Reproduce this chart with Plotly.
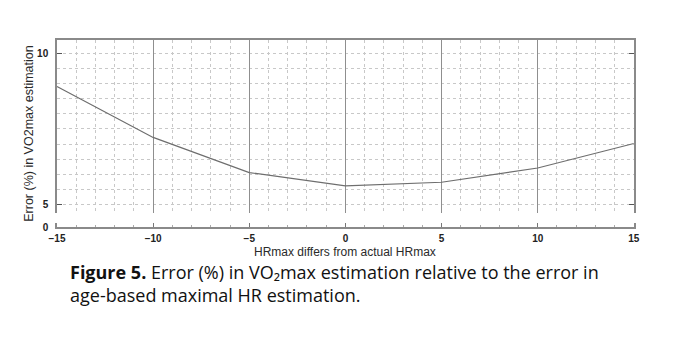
import plotly.graph_objects as go

# Data
hr_offset = [-15, -10, -5, 0, 5, 10, 15]
vo2_error = [8.90, 7.22, 6.06, 5.62, 5.74, 6.21, 7.02]
x_ticks = [-15, -10, -5, 0, 5, 10, 15]
y_ticks_top = [5, 10]

W, H = 680, 338
def px_x(p):
    return p / W
def px_y(p):
    return 1 - p / H

L, R = 50, 639
TOP, BOT = 39, 215
S_TOP, S_BOT = 226, 230

fig = go.Figure()
fig.add_trace(go.Scatter(x=hr_offset, y=vo2_error, mode="lines",
                         line=dict(color="#6e6e6e", width=1.2),
                         xaxis="x", yaxis="y", showlegend=False, hoverinfo="skip"))
# invisible trace to activate bottom strip axes
fig.add_trace(go.Scatter(x=[-15, 15], y=[None, None], mode="lines",
                         xaxis="x2", yaxis="y2", showlegend=False, hoverinfo="skip"))

axis_col = "#8a8a8a"
tick_font = dict(family="Liberation Sans, Arial", size=10, color="#222", weight="bold")

fig.update_layout(
    width=W, height=H,
    margin=dict(l=0, r=0, t=0, b=0),
    paper_bgcolor="white", plot_bgcolor="white",
    xaxis=dict(domain=[px_x(L), px_x(R)], range=[-15, 15], anchor="y", side="top",
               showline=True, linecolor=axis_col, linewidth=1.5,
               showticklabels=False, ticks="",
               showgrid=True, dtick=5, tick0=0, gridcolor="#8f8f8f", gridwidth=1.3,
               minor=dict(dtick=1, showgrid=True, gridcolor="#c8c8c8", griddash="dot", gridwidth=1),
               zeroline=False, fixedrange=True),
    yaxis=dict(domain=[px_y(BOT), px_y(TOP)], range=[4.74, 10.43], anchor="x",
               showline=True, linecolor=axis_col, linewidth=1.5, mirror="ticks",
               tickvals=y_ticks_top, ticks="inside", ticklen=5, tickcolor="#555",
               tickfont=tick_font, ticklabelstandoff=5,
               showgrid=False,
               minor=dict(dtick=0.5, tick0=0, showgrid=True, gridcolor="#c8c8c8", griddash="dot", gridwidth=1),
               zeroline=False, fixedrange=True),
    xaxis2=dict(domain=[px_x(L), px_x(R)], range=[-15, 15], anchor="y2",
                showline=True, linecolor=axis_col, linewidth=1.5,
                tickvals=x_ticks, ticks="inside", ticklen=4, tickcolor="#777",
                minor=dict(dtick=1, tick0=0, ticks="inside", ticklen=2, tickcolor="#aaa"),
                tickfont=tick_font, ticklabelstandoff=1,
                showgrid=False, zeroline=False, fixedrange=True),
    yaxis2=dict(domain=[px_y(S_BOT), px_y(S_TOP)], range=[0, 1], anchor="x2",
                showline=True, linecolor=axis_col, linewidth=1.5, mirror=True,
                tickvals=[0], ticktext=["0"], ticks="", ticklabelstandoff=5,
                tickfont=tick_font, showgrid=False, zeroline=False, fixedrange=True),
    annotations=[
        dict(text="HRmax differs from actual HRmax", x=px_x(344), y=px_y(255),
             xref="paper", yref="paper", showarrow=False, xanchor="center", yanchor="middle",
             font=dict(family="Liberation Sans, Arial", size=12, color="#2a2a2a")),
        dict(text="Error (%) in VO2max estimation", x=px_x(22), y=px_y(135),
             xref="paper", yref="paper", showarrow=False, textangle=-90,
             xanchor="center", yanchor="middle",
             font=dict(family="Liberation Sans, Arial", size=12.5, color="#2a2a2a")),
        dict(text="<b>Figure 5.</b> Error (%) in VO₂max estimation relative to the error in<br>age-based maximal HR estimation.",
             x=px_x(61), y=px_y(287), xref="paper", yref="paper", showarrow=False,
             xanchor="left", yanchor="middle", align="left",
             font=dict(family="Open Sans", size=18, color="#111")),
    ],
)

fig.write_html("out.html")
